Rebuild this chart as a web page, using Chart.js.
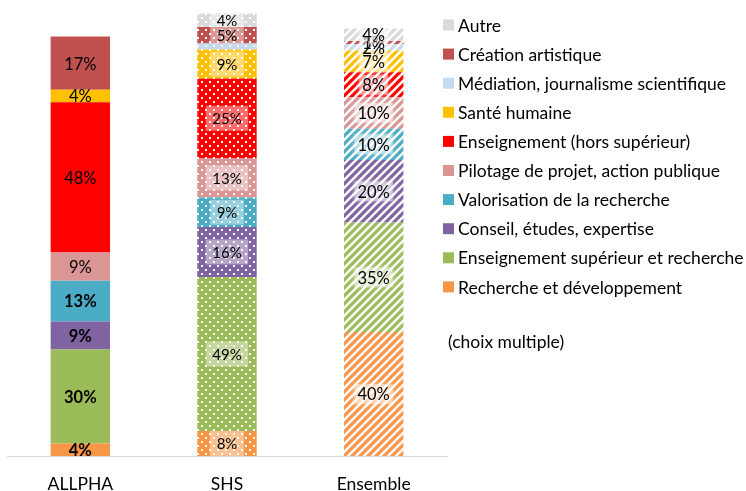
<!DOCTYPE html>
<html><head><meta charset="utf-8">
<script src="https://cdn.jsdelivr.net/npm/chart.js@4/dist/chart.umd.min.js"></script>
<style>html,body{margin:0;padding:0;background:#fff;}#wrap{position:relative;width:746px;height:491px;}</style>
</head><body><div id="wrap"><canvas id="c" width="746" height="491"></canvas></div>
<script>
// ---- data (percent of respondents, multiple choice) ----
const categories = ['ALLPHA', 'SHS', 'Ensemble'];
const seriesNames = [
  'Recherche et développement',
  'Enseignement supérieur et recherche',
  'Conseil, études, expertise',
  'Valorisation de la recherche',
  'Pilotage de projet, action publique',
  'Enseignement (hors supérieur)',
  'Santé humaine',
  'Médiation, journalisme scientifique',
  'Création artistique',
  'Autre'
];
const seriesColors = ['#F79646','#9BBB59','#8064A2','#4BACC6','#DA9694','#FF0000','#FFC000','#C6D9F1','#C0504D','#D9D9D9'];
const rechercheDev      = [4, 8.0, 39.6];
const enseignementSupRe = [30, 49.2, 35];
const conseilEtudes     = [9, 16.0, 20];
const valorisation      = [13, 9.4, 10];
const pilotage          = [9, 12.6, 10];
const enseignementHors  = [48, 25.4, 8];
const santeHumaine      = [4, 9.3, 7];
const mediation         = [0, 1.9, 2];
const creationArt       = [17, 5.3, 1];
const autre             = [0, 4.3, 4];
const seriesValues = [rechercheDev, enseignementSupRe, conseilEtudes, valorisation, pilotage,
                      enseignementHors, santeHumaine, mediation, creationArt, autre];
// ALLPHA labels shown in bold for these series
const boldAllphaSeries = [0, 1, 2, 3];
// labels not displayed: [seriesIndex, categoryIndex]
const hiddenLabels = [[7, 1]];
const noteText = '(choix multiple)';

const FONT = 'Lato, "Open Sans", sans-serif';

function dotPattern(color){
  const c = document.createElement('canvas'); c.width = 8; c.height = 8;
  const x = c.getContext('2d');
  x.fillStyle = color; x.fillRect(0,0,8,8);
  x.fillStyle = '#fff';
  x.fillRect(1,1,2,2); x.fillRect(5,5,2,2);
  return x.createPattern(c, 'repeat');
}
function stripePattern(color){
  const s = 8;
  const c = document.createElement('canvas'); c.width = s; c.height = s;
  const x = c.getContext('2d');
  x.fillStyle = '#fff'; x.fillRect(0,0,s,s);
  x.strokeStyle = color; x.lineWidth = 3.2; x.lineCap = 'square';
  x.beginPath();
  x.moveTo(-1, 1); x.lineTo(1, -1);
  x.moveTo(-1, s+1); x.lineTo(s+1, -1);
  x.moveTo(s-1, s+1); x.lineTo(s+1, s-1);
  x.stroke();
  return x.createPattern(c, 'repeat');
}

const datasets = seriesNames.map((name, i) => ({
  label: name,
  data: seriesValues[i],
  backgroundColor: [seriesColors[i], dotPattern(seriesColors[i]), stripePattern(seriesColors[i])],
  borderWidth: 0,
  categoryPercentage: 1.0,
  barPercentage: 0.405
}));

const labelPlugin = {
  id: 'segLabels',
  afterDatasetsDraw(chart){
    const ctx = chart.ctx;
    chart.data.datasets.forEach((ds, di) => {
      const meta = chart.getDatasetMeta(di);
      meta.data.forEach((bar, ci) => {
        const v = ds.data[ci];
        if (!v) return;
        if (hiddenLabels.some(h => h[0] === di && h[1] === ci)) return;
        const txt = Math.round(v) + '%';
        const yc = (bar.y + bar.base) / 2;
        const segH = Math.abs(bar.base - bar.y);
        ctx.save();
        let size = 16.5, weight = 'normal';
        if (ci === 0 && boldAllphaSeries.includes(di)) weight = 'bold';
        if (ci === 1) size = 15;
        ctx.font = weight + ' ' + size + 'px ' + FONT;
        const w = ctx.measureText(txt).width;
        if (ci === 1) {
          const bw = w + 13, bh = Math.min(25, segH);
          ctx.fillStyle = 'rgba(255,255,255,0.42)';
          ctx.fillRect(bar.x - bw/2, yc - bh/2, bw, bh);
        } else if (ci === 2) {
          const bw = w + 6, bh = Math.min(20, segH);
          ctx.shadowColor = 'rgba(255,255,255,0.9)';
          ctx.shadowBlur = 6;
          ctx.fillStyle = 'rgba(255,255,255,0.45)';
          ctx.fillRect(bar.x - bw/2, yc - bh/2, bw, bh);
          ctx.shadowBlur = 0; ctx.shadowColor = 'transparent';
        }
        ctx.fillStyle = '#000';
        ctx.textAlign = 'center';
        ctx.textBaseline = 'middle';
        ctx.fillText(txt, bar.x, yc + 1);
        ctx.restore();
      });
    });
  }
};

const legendPlugin = {
  id: 'sideLegend',
  afterDraw(chart){
    const ctx = chart.ctx;
    ctx.save();
    ctx.font = '17.5px ' + FONT;
    ctx.textBaseline = 'middle';
    ctx.textAlign = 'left';
    const n = chart.data.datasets.length;
    for (let k = 0; k < n; k++) {
      const di = n - 1 - k;
      const yc = 25 + k * 29.1;
      ctx.fillStyle = seriesColors[di];
      ctx.fillRect(443, yc - 5.5, 11, 11);
      ctx.fillStyle = '#000';
      ctx.fillText(chart.data.datasets[di].label, 458, yc + 1);
    }
    ctx.fillText(noteText, 448, 342);
    ctx.restore();
  }
};

function build(){
  new Chart(document.getElementById('c'), {
    type: 'bar',
    data: { labels: categories, datasets },
    options: {
      responsive: false,
      animation: false,
      layout: { padding: { left: 7, right: 299, top: 0, bottom: 0 } },
      plugins: { legend: { display: false }, tooltip: { enabled: false } },
      scales: {
        x: {
          stacked: true,
          grid: { display: false, drawTicks: false },
          border: { display: true, color: '#D9D9D9', width: 1 },
          ticks: { color: '#000', font: { family: FONT, size: 17.5 }, padding: 18 },
          afterFit(scale){ scale.height = 35; }
        },
        y: {
          stacked: true, display: false, min: 0, max: 145.7
        }
      }
    },
    plugins: [labelPlugin, legendPlugin]
  });
}
if (document.fonts && document.fonts.load) {
  Promise.all([document.fonts.load('16px Lato'), document.fonts.load('bold 16px Lato')]).then(build, build);
} else build();
</script></body></html>
